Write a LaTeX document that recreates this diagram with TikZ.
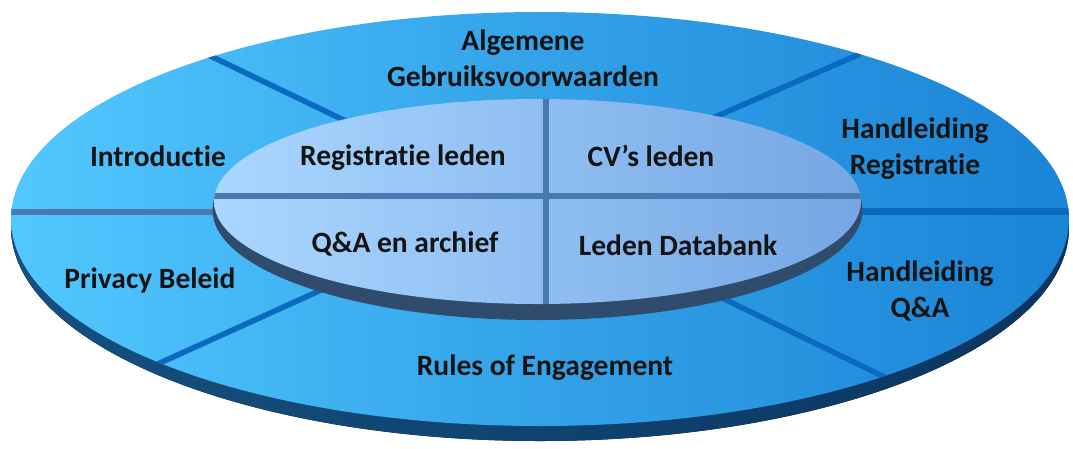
\documentclass[tikz,border=0pt]{standalone}
\usepackage{fontspec}
\setmainfont[Ligatures=NoCommon]{Carlito}
\definecolor{outerL}{HTML}{52C8FF}
\definecolor{outerR}{HTML}{1A84D6}
\definecolor{outerRimL}{HTML}{15507F}
\definecolor{outerRimR}{HTML}{0B3560}
\definecolor{innerL}{HTML}{AAD7FF}
\definecolor{innerR}{HTML}{76A6E4}
\definecolor{innerRim}{HTML}{2F4C6C}
\definecolor{divblue}{HTML}{4A78B0}
\definecolor{spokeblue}{HTML}{0A6AC0}
\begin{document}
\begin{tikzpicture}[x=1pt,y=-1pt,
  lbl/.style={font=\bfseries\fontsize{29.5}{36}\selectfont, text=black!92, align=center, inner sep=0pt},
  spokeline/.style={line width=5.5pt, draw=spokeblue},
  dividerline/.style={line width=6pt, draw=divblue}]
\useasboundingbox (0,0) rectangle (1073,448);
% outer disk
\fill[left color=outerRimL, right color=outerRimR] (540,227) ellipse [x radius=529pt, y radius=214pt];
\path[left color=outerL, right color=outerR, middle color=outerL!45!outerR] (540,219) ellipse [x radius=529pt, y radius=207pt];
% spokes
\begin{scope}
  \clip (540,219) ellipse [x radius=529pt, y radius=207pt];
  \coordinate (ulA) at (200,51);  \coordinate (ulB) at (352,124);
  \coordinate (urA) at (860,54);  \coordinate (urB) at (708,120);
  \coordinate (llA) at (140,372); \coordinate (llB) at (330,286);
  \coordinate (lrA) at (905,387); \coordinate (lrB) at (718,296);
  \coordinate (lhA) at (0,212);   \coordinate (lhB) at (240,212);
  \coordinate (rhA) at (840,211); \coordinate (rhB) at (1073,211);
  \draw[spokeline] (ulA) -- (ulB);
  \draw[spokeline] (urA) -- (urB);
  \draw[spokeline] (llA) -- (llB);
  \draw[spokeline] (lrA) -- (lrB);
  \draw[dividerline] (lhA) -- (lhB);
  \draw[spokeline, line width=7pt] (rhA) -- (rhB);
\end{scope}
% inner disk
\fill[innerRim] (537.5,210) ellipse [x radius=325pt, y radius=110pt];
\path[left color=innerL, right color=innerR] (537.5,201.5) ellipse [x radius=323.5pt, y radius=102.5pt];
\begin{scope}
  \clip (537.5,201.5) ellipse [x radius=323.5pt, y radius=102.5pt];
  \coordinate (hA) at (200,196); \coordinate (hB) at (880,196);
  \coordinate (vA) at (546,90);  \coordinate (vB) at (546,320);
  \draw[dividerline] (hA) -- (hB);
  \draw[dividerline] (vA) -- (vB);
\end{scope}
% labels
\node[lbl] (alg) at (523,58) {Algemene\\Gebruiksvoorwaarden};
\node[lbl] (intro) at (158,156) {Introductie};
\node[lbl] (reg) at (403,158) {Registratie leden};
\node[lbl] (cv) at (651,156) {CV’s leden};
\node[lbl] (hreg) at (915,149) {Handleiding\\Registratie};
\node[lbl] (qa) at (405,244) {Q\&A en archief};
\node[lbl] (db) at (678,245) {Leden Databank};
\node[lbl] (priv) at (150,280) {Privacy Beleid};
\node[lbl] (hqa) at (920,291) {Handleiding\\Q\&A};
\node[lbl] (rules) at (545,368) {Rules of Engagement};
\end{tikzpicture}
\end{document}
